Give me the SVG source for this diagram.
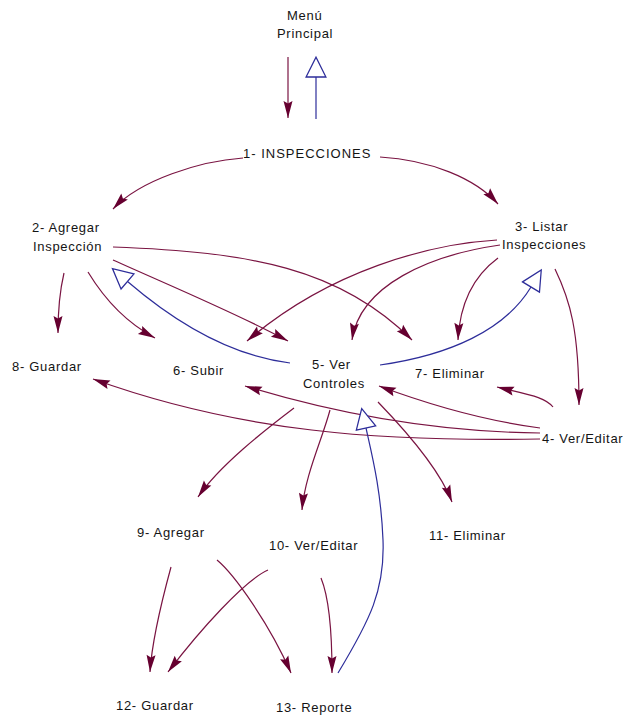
<svg xmlns="http://www.w3.org/2000/svg" width="624" height="719" viewBox="0 0 624 719">
  <style>
    .lbl { font-family: "Liberation Sans", Arial, sans-serif; font-size: 13px; letter-spacing: 0.7px; fill: #141414; }
    .flow { fill: none; stroke: #7a1442; stroke-width: 1.2; marker-end: url(#solid); }
    .back { fill: none; stroke: #2d2d9a; stroke-width: 1.2; marker-end: url(#hollow); }
  </style>
  <defs>
    <!-- filled head, tip sits on the path end -->
    <marker id="solid" markerUnits="userSpaceOnUse" markerWidth="20" markerHeight="14" viewBox="-18 -7 19 14" refX="0" refY="0" orient="auto">
      <path d="M0,0 L-17,-4.5 L-14.5,0 L-17,4.5 Z" fill="#660030"/>
    </marker>
    <!-- open triangle, base sits on the path end -->
    <marker id="hollow" markerUnits="userSpaceOnUse" markerWidth="24" markerHeight="24" viewBox="-2 -11 23 22" refX="0" refY="0" orient="auto">
      <path d="M0,-9.5 L19,0 L0,9.5 Z" fill="#ffffff" stroke="#2d2d9a" stroke-width="1.2"/>
    </marker>
  </defs>

  <rect width="624" height="719" fill="#ffffff"/>

  <g id="connectors">
    <!-- menu <-> inspecciones -->
    <path class="flow" d="M288,57 L288,118"/>
    <path class="back" d="M316,119 L316,77"/>
    <!-- from 1 -->
    <path class="flow" d="M243,158 C200,161 140,180 113,209"/>
    <path class="flow" d="M380,157 C430,160 475,178 498,204"/>
    <!-- from 2 -->
    <path class="flow" d="M64,273 C60,290 58,310 58,333"/>
    <path class="flow" d="M88,272 C105,300 125,322 155,338"/>
    <path class="flow" d="M113,260 C180,290 240,315 288,341"/>
    <path class="flow" d="M113,247 C250,252 340,268 412,340"/>
    <!-- from 3 -->
    <path class="flow" d="M497,240 C430,244 330,270 247,341"/>
    <path class="flow" d="M500,245 C430,255 360,285 352,340"/>
    <path class="flow" d="M498,258 C475,275 460,300 458,340"/>
    <path class="flow" d="M555,269 C570,300 579,330 579,405"/>
    <!-- returns from 5 -->
    <path class="back" d="M290,363 C225,355 170,318 127.5,281.5"/>
    <path class="back" d="M380,365 C450,355 505,330 531,287"/>
    <!-- from 4 -->
    <path class="flow" d="M540,439 C380,442 240,432 93,379"/>
    <path class="flow" d="M540,433 C430,432 330,412 245,386"/>
    <path class="flow" d="M540,428 C480,420 430,405 379,386"/>
    <path class="flow" d="M553,407 C545,397 530,395 497,387"/>
    <!-- from 5 -->
    <path class="flow" d="M294,408 C265,430 220,465 198,497"/>
    <path class="flow" d="M330,410 C322,440 305,475 302,510"/>
    <path class="flow" d="M378,402 C405,430 440,470 452,502"/>
    <!-- return from 13 -->
    <path class="back" d="M338,673 C370,620 385,590 383,540 C381,490 372,455 366,428"/>
    <!-- from 9 and 10 -->
    <path class="flow" d="M171,567 C162,600 152,640 150,672"/>
    <path class="flow" d="M217,560 C235,575 270,625 291,673"/>
    <path class="flow" d="M268,570 C245,580 200,630 168,672"/>
    <path class="flow" d="M321,578 C330,600 332,640 332,673"/>
  </g>

  <g id="menu-principal">
    <text class="lbl" x="287" y="20">Menú</text>
    <text class="lbl" x="277" y="38">Principal</text>
  </g>
  <g id="n1-inspecciones">
    <text class="lbl" x="243" y="158" style="letter-spacing:1px">1- INSPECCIONES</text>
  </g>
  <g id="n2-agregar-inspeccion">
    <text class="lbl" x="32" y="232">2- Agregar</text>
    <text class="lbl" x="33" y="251">Inspección</text>
  </g>
  <g id="n3-listar-inspecciones">
    <text class="lbl" x="515" y="231">3- Listar</text>
    <text class="lbl" x="502" y="249">Inspecciones</text>
  </g>
  <g id="n4-ver-editar">
    <text class="lbl" x="542" y="443">4- Ver/Editar</text>
  </g>
  <g id="n5-ver-controles">
    <text class="lbl" x="312" y="369">5- Ver</text>
    <text class="lbl" x="303" y="388">Controles</text>
  </g>
  <g id="n6-subir">
    <text class="lbl" x="173" y="375">6- Subir</text>
  </g>
  <g id="n7-eliminar">
    <text class="lbl" x="415" y="378">7- Eliminar</text>
  </g>
  <g id="n8-guardar">
    <text class="lbl" x="12" y="371">8- Guardar</text>
  </g>
  <g id="n9-agregar">
    <text class="lbl" x="137" y="537">9- Agregar</text>
  </g>
  <g id="n10-ver-editar">
    <text class="lbl" x="269" y="550">10- Ver/Editar</text>
  </g>
  <g id="n11-eliminar">
    <text class="lbl" x="429" y="540">11- Eliminar</text>
  </g>
  <g id="n12-guardar">
    <text class="lbl" x="116" y="710">12- Guardar</text>
  </g>
  <g id="n13-reporte">
    <text class="lbl" x="276" y="712">13- Reporte</text>
  </g>
</svg>
